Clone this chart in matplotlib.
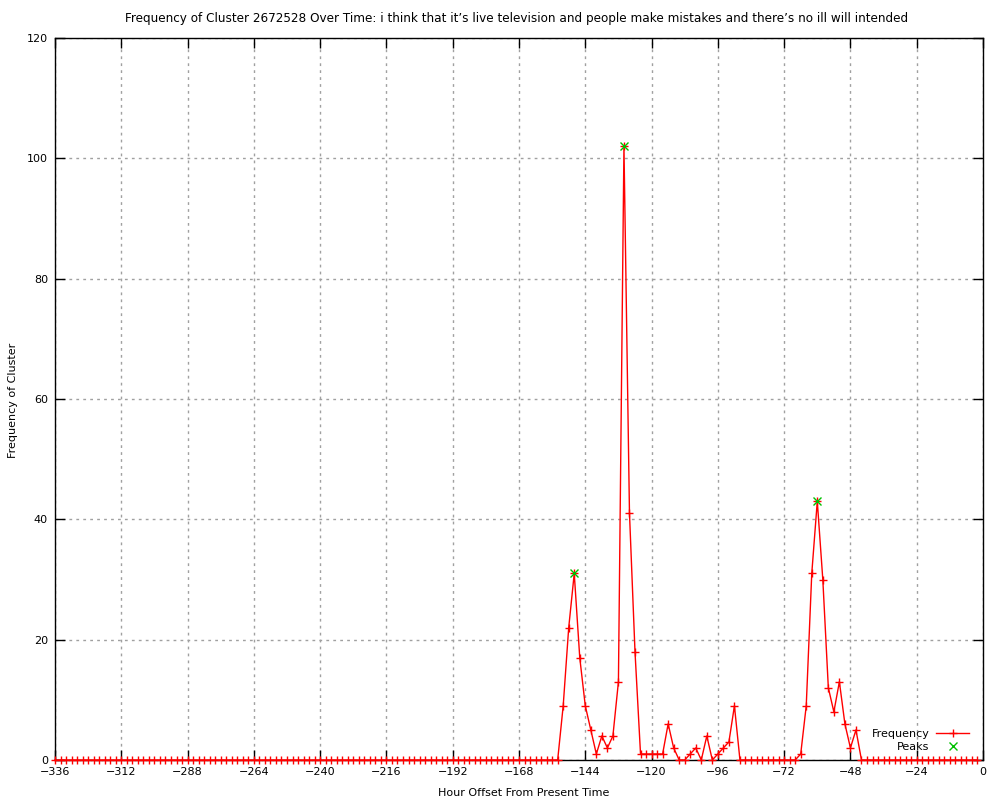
import numpy as np
import matplotlib
matplotlib.use('Agg')
import matplotlib.pyplot as plt

# hour offsets, one point every 2 hours
hours = list(range(-336, 0, 2))

# frequency of the cluster at each hour offset
freq = [0, 0, 0, 0, 0, 0, 0, 0, 0, 0, 0, 0, 0, 0, 0, 0, 0, 0, 0, 0,
        0, 0, 0, 0, 0, 0, 0, 0, 0, 0, 0, 0, 0, 0, 0, 0, 0, 0, 0, 0,
        0, 0, 0, 0, 0, 0, 0, 0, 0, 0, 0, 0, 0, 0, 0, 0, 0, 0, 0, 0,
        0, 0, 0, 0, 0, 0, 0, 0, 0, 0, 0, 0, 0, 0, 0, 0, 0, 0, 0, 0,
        0, 0, 0, 0, 0, 0, 0, 0, 0, 0, 0, 0,
        9, 22, 31, 17, 9, 5, 1, 4, 2, 4, 13, 102, 41, 18, 1, 1, 1, 1, 1, 6,
        2, 0, 0, 1, 2, 0, 4, 0, 1, 2, 3, 9,
        0, 0, 0, 0, 0, 0, 0, 0, 0, 0, 0,
        1, 9, 31, 43, 30, 12, 8, 13, 6, 2, 5,
        0, 0, 0, 0, 0, 0, 0, 0, 0, 0, 0, 0, 0, 0, 0, 0, 0, 0, 0, 0, 0, 0]

peak_hours = [-148, -130, -60]
peak_freq = [31, 102, 43]

xticks = list(range(-336, 1, 24))
yticks = list(range(0, 121, 20))

title = ("Frequency of Cluster 2672528 Over Time: i think that it\u2019s live television "
         "and people make mistakes and there\u2019s no ill will intended")

plt.rcParams['font.family'] = ['DejaVu Sans']
fs = 8

fig = plt.figure(figsize=(10, 8), dpi=100)
ax = fig.add_axes([0.055, 0.05, 0.928, 0.9025])

ax.plot(hours, freq, color='red', linewidth=1.0, marker='+', markersize=6,
        markeredgewidth=1.0, label='Frequency', clip_on=False, zorder=3)
ax.plot(peak_hours, peak_freq, linestyle='none', marker='x', color='#00c000',
        markersize=6, markeredgewidth=1.0, label='Peaks', zorder=4)

ax.set_xlim(-336, 0)
ax.set_ylim(0, 120)
ax.set_xticks(xticks)
ax.set_yticks(yticks)
ax.set_xticklabels([str(t).replace('-', '\u2212') for t in xticks], fontsize=fs)
ax.set_yticklabels([str(t) for t in yticks], fontsize=fs)
ax.tick_params(direction='in', length=7, width=1, top=True, right=True, pad=5)

ax.grid(True, color='#a0a0a0', linestyle=(0, (2, 3)), linewidth=1.0)
for sp in ax.spines.values():
    sp.set_linewidth(1.0)
    sp.set_color('black')

fig.text(0.5235, 0.009, 'Hour Offset From Present Time', ha='center',
         va='center', fontsize=fs)
fig.text(0.013, 0.5, 'Frequency of Cluster', rotation=90, ha='center',
         va='center', fontsize=fs)
fig.text(0.517, 0.977, title, ha='center', va='center', fontsize=8.65)

leg = ax.legend(loc='lower right', bbox_to_anchor=(0.99, 0.005), frameon=False,
                markerfirst=False, fontsize=fs, handlelength=3.0,
                labelspacing=0.25, handletextpad=0.6, borderaxespad=0)
for t in leg.get_texts():
    t.set_ha('right')

fig.savefig('out.png', dpi=100)
